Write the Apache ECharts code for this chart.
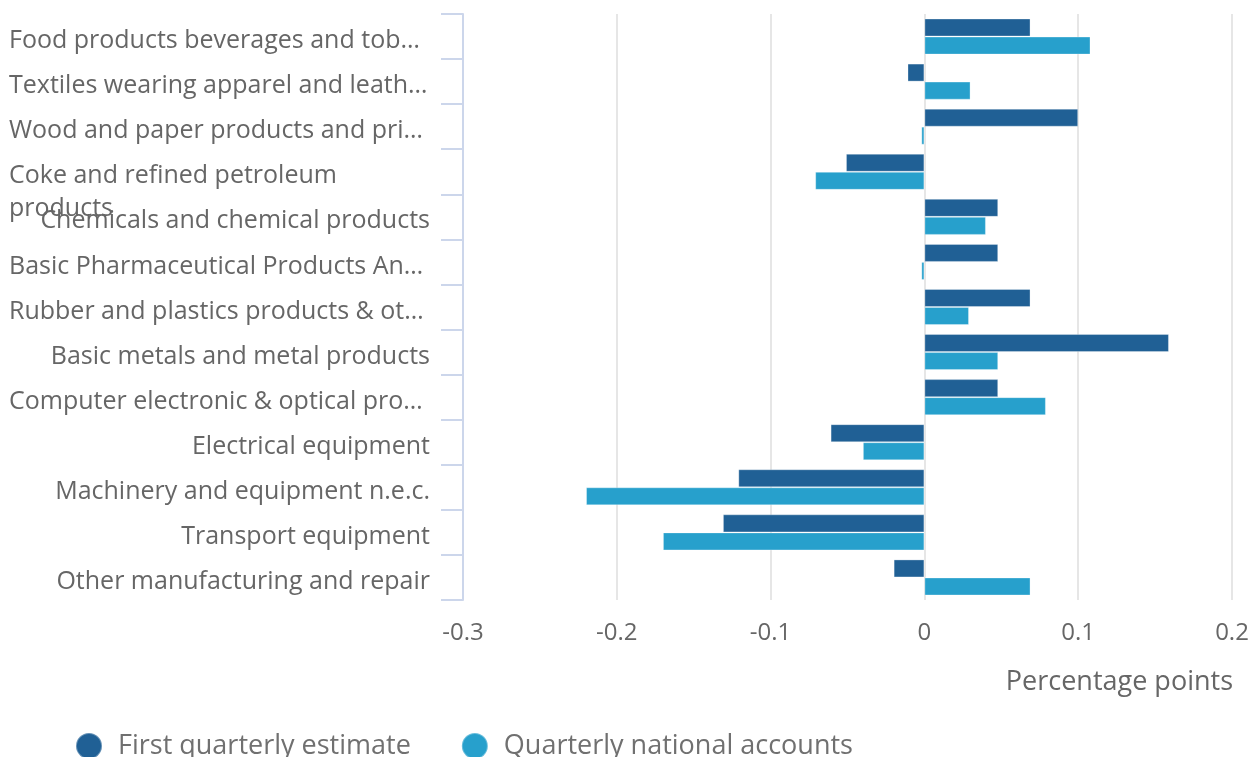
<!DOCTYPE html>
<html>
<head>
<meta charset="utf-8">
<title>Manufacturing revisions</title>
<script src="https://cdn.jsdelivr.net/npm/echarts@6/dist/echarts.min.js"></script>
<style>
  html, body { margin: 0; padding: 0; background: #fff; }
  #chart { width: 1258px; height: 757px; }
</style>
</head>
<body>
<div id="chart"></div>
<script>
// categories as displayed (long names are cut off in the original)
const industries = [
  'Food products beverages and tob…',
  'Textiles wearing apparel and leath…',
  'Wood and paper products and pri…',
  'Coke and refined petroleum products',
  'Chemicals and chemical products',
  'Basic Pharmaceutical Products An…',
  'Rubber and plastics products & ot…',
  'Basic metals and metal products',
  'Computer electronic & optical pro…',
  'Electrical equipment',
  'Machinery and equipment n.e.c.',
  'Transport equipment',
  'Other manufacturing and repair'
];

const firstEstimate = [0.069, -0.011, 0.1, -0.051, 0.048, 0.048, 0.069, 0.159, 0.048, -0.061, -0.121, -0.131, -0.02];
const nationalAccounts = [0.108, 0.03, -0.002, -0.071, 0.04, -0.002, 0.029, 0.048, 0.079, -0.04, -0.22, -0.17, 0.069];

const xMin = -0.3;
const xMax = 0.2;
const xStep = 0.1;

const textGrey = '#666666';
const axisBlue = '#ccd6eb';

const chart = echarts.init(document.getElementById('chart'));

chart.setOption({
  animation: false,
  textStyle: { fontFamily: 'Open Sans' },
  title: {
    text: 'Percentage points',
    right: 20,
    top: 664,
    textStyle: { fontSize: 27, fontWeight: 'normal', color: textGrey, fontFamily: 'Open Sans' }
  },
  legend: {
    left: 70,
    top: 727,
    icon: 'circle',
    itemWidth: 48,
    itemHeight: 26,
    itemGap: 50,
    textStyle: { fontSize: 27, color: '#707070', fontFamily: 'Open Sans' }
  },
  grid: { left: 463, right: 26, top: 14, bottom: 157 },
  xAxis: {
    type: 'value',
    min: xMin,
    max: xMax,
    interval: xStep,
    axisLine: { show: false },
    axisTick: { show: false },
    axisLabel: { fontSize: 24, color: textGrey, margin: 21 },
    splitLine: { lineStyle: { color: '#e6e6e6', width: 2 } }
  },
  yAxis: {
    type: 'category',
    inverse: true,
    data: industries,
    axisLine: { show: true, onZero: false, lineStyle: { color: axisBlue, width: 2 } },
    axisTick: { show: true, interval: 0, length: 22, lineStyle: { color: axisBlue, width: 2 } },
    axisLabel: {
      fontSize: 25,
      color: textGrey,
      margin: 33,
      lineHeight: 33,
      padding: [9, 0, 0, 0],
      formatter: function (v) {
        if (v.indexOf('Coke') === 0) {
          // wrapped label: first line sits on the category, second hangs below
          return '\n{l|Coke and refined petroleum}\n{l|products}';
        }
        if (v.slice(-1) === '…') {
          return '{l|' + v + '}';
        }
        return v;
      },
      rich: {
        l: { width: 421, align: 'left', fontSize: 25, color: textGrey, lineHeight: 33 }
      }
    }
  },
  series: [
    {
      name: 'First quarterly estimate',
      type: 'bar',
      data: firstEstimate,
      barGap: '0%',
      barCategoryGap: '20%',
      itemStyle: { color: '#206095', borderColor: 'rgba(255,255,255,0.3)', borderWidth: 1 }
    },
    {
      name: 'Quarterly national accounts',
      type: 'bar',
      data: nationalAccounts,
      barGap: '0%',
      barCategoryGap: '20%',
      itemStyle: { color: '#27a0cc', borderColor: 'rgba(255,255,255,0.3)', borderWidth: 1 }
    }
  ]
});
</script>
</body>
</html>
